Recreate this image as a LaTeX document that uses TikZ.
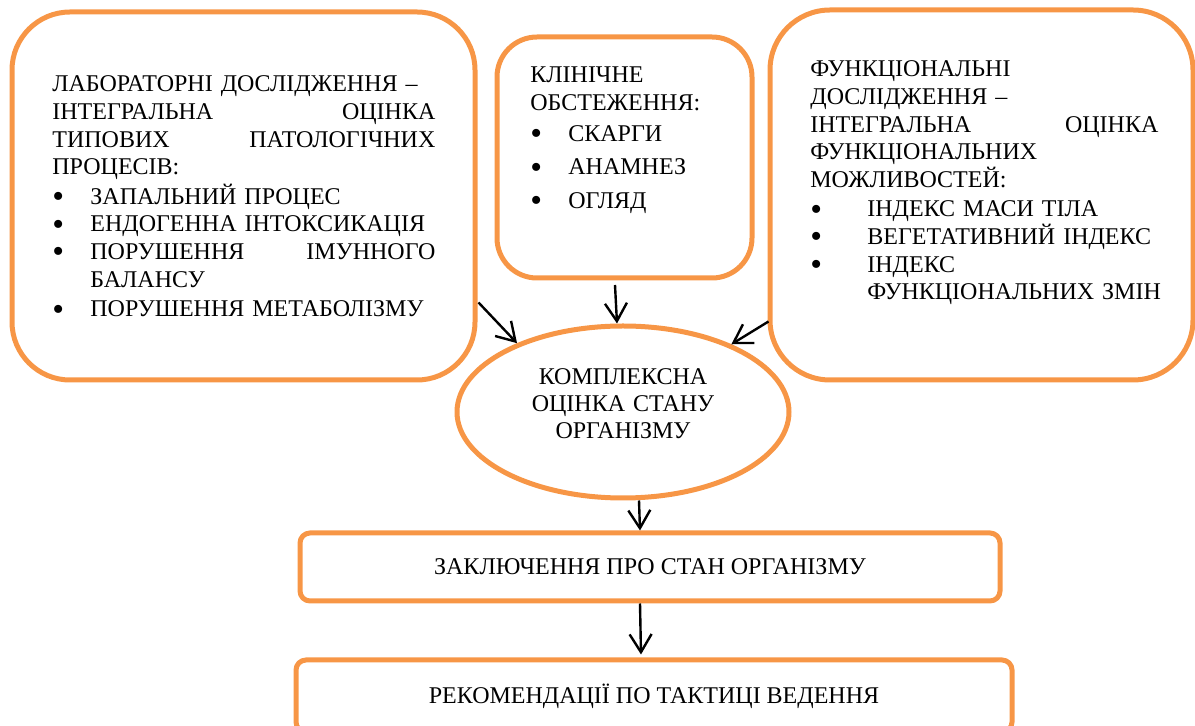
\documentclass[tikz,border=0pt]{standalone}
\usepackage{fontspec}
\usepackage{graphicx}
\setmainfont{Liberation Serif}
\usetikzlibrary{arrows.meta,shapes.geometric}
\definecolor{boxorange}{RGB}{247,150,70}
\newcommand{\bul}[2]{\makebox[#1][l]{\smash{\raisebox{-0.3ex}{\scalebox{1.4}{•}}}}#2}

\begin{document}
\begin{tikzpicture}[x=0.5pt,y=-0.5pt,
    box/.style={draw=boxorange,line width=2.5pt,rectangle},
    txt/.style={anchor=base west,inner sep=0pt,align=left,font=\fontsize{12}{13.8}\selectfont},
    arr/.style={draw=black,line width=1.2pt,-{Straight Barb[length=9pt,width=11pt]}}]
  \useasboundingbox (0,0) rectangle (1195,726);
  \node[box,rounded corners=29pt,minimum width=231.5pt,minimum height=184pt] (lab) at (243.5,196) {};
  \node[box,rounded corners=20pt,minimum width=127.5pt,minimum height=120.5pt] (clin) at (624.5,157.5) {};
  \node[box,rounded corners=30pt,minimum width=211.5pt,minimum height=185pt] (func) at (981.5,195) {};
  \node[box,ellipse,minimum width=166pt,minimum height=86pt] (assess) at (623,412) {};
  \node[box,rounded corners=5pt,minimum width=350pt,minimum height=34pt,font=\fontsize{12}{13.8}\selectfont] (concl) at (650,567) {ЗАКЛЮЧЕННЯ ПРО СТАН ОРГАНІЗМУ};
  \node[box,rounded corners=5pt,minimum width=358pt,minimum height=36pt,font=\fontsize{12}{13.8}\selectfont] (recom) at (654,696) {РЕКОМЕНДАЦІЇ ПО ТАКТИЦІ ВЕДЕННЯ};
  \node[txt,text width=191.5pt] (labtext) at (52,92) {ЛАБОРАТОРНІ ДОСЛІДЖЕННЯ –\\
    ІНТЕГРАЛЬНА\hfill ОЦІНКА\\
    ТИПОВИХ\hfill ПАТОЛОГІЧНИХ\\
    ПРОЦЕСІВ:\\[1pt]
    \bul{19pt}{ЗАПАЛЬНИЙ ПРОЦЕС}\\
    \bul{19pt}{ЕНДОГЕННА ІНТОКСИКАЦІЯ}\\
    \bul{19pt}{ПОРУШЕННЯ\hfill ІМУННОГО}\\
    \hspace*{19pt}БАЛАНСУ\\[1pt]
    \bul{19pt}{ПОРУШЕННЯ МЕТАБОЛІЗМУ}};
  \node[txt,text width=100pt] (clintext) at (530,83) {КЛІНІЧНЕ\\
    ОБСТЕЖЕННЯ:\\[1.5pt]
    \bul{19pt}{СКАРГИ}\\[3pt]
    \bul{19pt}{АНАМНЕЗ}\\[3pt]
    \bul{19pt}{ОГЛЯД}};
  \node[txt,text width=174pt] (functext) at (810,77) {ФУНКЦІОНАЛЬНІ\\
    ДОСЛІДЖЕННЯ –\\
    ІНТЕГРАЛЬНА\hfill ОЦІНКА\\
    ФУНКЦІОНАЛЬНИХ\\
    МОЖЛИВОСТЕЙ:\\[1pt]
    \bul{28.5pt}{ІНДЕКС МАСИ ТІЛА}\\
    \bul{28.5pt}{ВЕГЕТАТИВНИЙ ІНДЕКС}\\
    \bul{28.5pt}{ІНДЕКС}\\
    \hspace*{28.5pt}\mbox{ФУНКЦІОНАЛЬНИХ ЗМІН}};
  \node[txt,anchor=base,align=center,text width=100pt,font=\fontsize{12}{13.3}\selectfont] (assesstext) at (623,385) {КОМПЛЕКСНА\\ ОЦІНКА СТАНУ\\ ОРГАНІЗМУ};
  \begin{scope}[arr]
    \draw ([shift={(1,-80)}]lab.south east) to (assess.147);
    \draw ([shift={(-9.5,4.5)}]clin.south) to ([shift={(-6,0)}]assess.north);
    \draw ([shift={(1,-61)}]func.south west) to (assess.32);
    \draw ([shift={(16,0)}]assess.south) to ([shift={(-10,0)}]concl.north);
    \draw ([shift={(-10,0)}]concl.south) to ([shift={(-13,-3)}]recom.north);
  \end{scope}
\end{tikzpicture}
\end{document}
